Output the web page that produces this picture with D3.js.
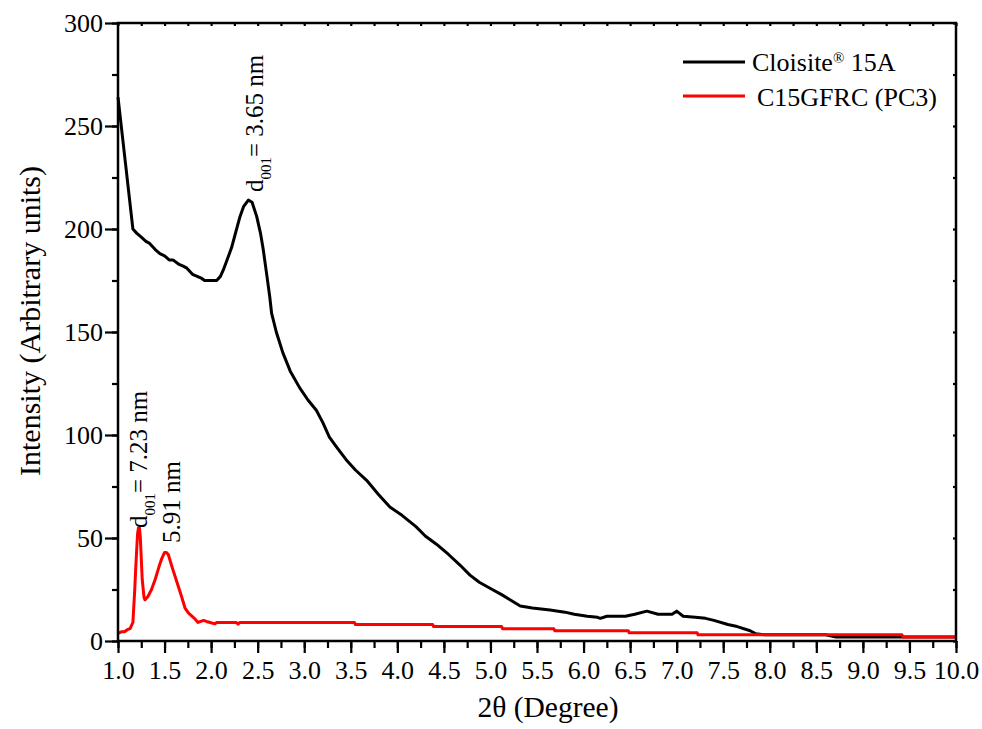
<!DOCTYPE html>
<html>
<head>
<meta charset="utf-8">
<script src="https://cdn.jsdelivr.net/npm/d3@7"></script>
<style>
  body { margin: 0; background: #fff; }
  svg text { font-family: "Liberation Serif", "Times New Roman", serif; fill: #000; }
</style>
</head>
<body>
<svg id="chart" width="982" height="729"></svg>
<script>
// Cloisite 15A (2theta, intensity)
const cloisiteX = [1.00, 1.08, 1.16, 1.20, 1.25, 1.30, 1.34, 1.40, 1.45, 1.50, 1.55, 1.59, 1.65, 1.70, 1.74, 1.80, 1.85, 1.90, 1.93, 2.00, 2.06, 2.10, 2.13, 2.18, 2.22, 2.25, 2.28, 2.31, 2.35, 2.40, 2.44, 2.49, 2.53, 2.56, 2.60, 2.63, 2.65, 2.70, 2.77, 2.85, 2.95, 3.04, 3.13, 3.20, 3.27, 3.35, 3.45, 3.55, 3.67, 3.80, 3.92, 4.05, 4.20, 4.30, 4.42, 4.55, 4.67, 4.78, 4.88, 5.00, 5.12, 5.21, 5.32, 5.45, 5.64, 5.80, 5.90, 6.04, 6.15, 6.18, 6.25, 6.45, 6.55, 6.68, 6.80, 6.95, 7.00, 7.07, 7.20, 7.31, 7.40, 7.55, 7.65, 7.79, 7.85, 7.95, 8.60, 8.70, 9.40, 10.00];
const cloisiteY = [264, 232, 200, 198, 196, 194, 193, 190, 188, 187, 185, 185, 183, 182, 181, 178, 177, 176, 175, 175, 175, 177, 180, 186, 191, 196, 201, 206, 211, 214, 213, 206, 198, 190, 177, 167, 159, 150, 140, 131, 123, 117, 112, 106, 99, 94, 88, 83, 78, 71, 65, 61, 55.5, 51, 47, 42, 37, 32, 28.5, 25.5, 22.5, 20, 17, 16, 15, 14, 13, 12, 11.5, 11, 12, 12, 13, 14.5, 13, 13, 14.5, 12, 11.5, 11, 10, 8, 7, 5, 3.5, 3, 3, 2, 2, 2];

// C15GFRC (PC3)
const pc3X = [1.00, 1.04, 1.07, 1.10, 1.13, 1.16, 1.18, 1.19, 1.21, 1.22, 1.23, 1.24, 1.26, 1.28, 1.29, 1.32, 1.36, 1.40, 1.44, 1.47, 1.50, 1.52, 1.54, 1.58, 1.63, 1.68, 1.72, 1.75, 1.77, 1.82, 1.86, 1.89, 1.92, 1.95, 1.99, 2.04, 2.06, 2.27, 2.29, 2.31, 3.54, 3.55, 4.38, 4.39, 5.12, 5.13, 5.68, 5.69, 6.48, 6.49, 7.22, 7.23, 9.42, 9.43, 10.00];
const pc3Y = [3.7, 4.5, 4.5, 5.5, 6, 9, 25, 35, 52, 55, 55, 50, 30, 21, 20, 21.5, 25, 30, 36, 40, 43, 43, 42, 36, 29, 22, 16, 14, 13, 11, 9, 9.5, 10, 9.5, 9, 8.3, 9, 9, 8.2, 9, 9, 8, 8, 7, 7, 6, 6, 5, 5, 4, 4, 3, 3, 2, 2];

const xTicks = d3.range(1, 10.01, 0.5);
const yTicks = [0, 50, 100, 150, 200, 250, 300];
const seriesNames = ["Cloisite", "C15GFRC (PC3)"];
const seriesColors = ["#000000", "#ff0000"];

const svg = d3.select("#chart");
const plotL = 118, plotR = 956, plotT = 23, plotB = 641;

const x = d3.scaleLinear().domain([1, 10]).range([plotL, plotR]);
const y = d3.scaleLinear().domain([0, 300]).range([plotB, plotT]);

const line = d3.line()
  .x((d) => x(d[0]))
  .y((d) => y(d[1]));

const series = [
  d3.zip(cloisiteX, cloisiteY),
  d3.zip(pc3X, pc3Y),
];

// curves
series.forEach((pts, i) => {
  svg.append("path")
    .datum(pts)
    .attr("d", line)
    .attr("fill", "none")
    .attr("stroke", seriesColors[i])
    .attr("stroke-width", 3)
    .attr("stroke-linejoin", "round");
});

// minor ticks first so the major ones draw over them
const minorX = d3.range(1, 10.01, 0.25);
const minorY = d3.range(0, 300.1, 25);

svg.append("g")
  .attr("transform", `translate(0,${plotB})`)
  .call(d3.axisBottom(x).tickValues(minorX).tickSize(7).tickFormat(""));

svg.append("g")
  .attr("transform", `translate(${plotL},0)`)
  .call(d3.axisLeft(y).tickValues(minorY).tickSize(6).tickFormat(""));

// top and right frame with small inward ticks
svg.append("g")
  .attr("transform", `translate(0,${plotT})`)
  .call(d3.axisBottom(x).tickValues(minorX).tickSize(3).tickFormat(""));

svg.append("g")
  .attr("transform", `translate(${plotR},0)`)
  .call(d3.axisLeft(y).tickValues(minorY).tickSize(3).tickFormat(""));

const xAxis = svg.append("g")
  .attr("transform", `translate(0,${plotB})`)
  .call(d3.axisBottom(x).tickValues(xTicks).tickSize(12).tickFormat(d3.format(".1f")));
xAxis.selectAll("text").attr("y", 20).attr("dy", "0.71em").style("font-size", "26px");

const yAxis = svg.append("g")
  .attr("transform", `translate(${plotL},0)`)
  .call(d3.axisLeft(y).tickValues(yTicks).tickSize(13));
yAxis.selectAll("text").attr("x", -15).attr("dy", "0.34em").style("font-size", "26px");

svg.selectAll(".tick line").attr("stroke", "#000").attr("stroke-width", 2.2);
svg.selectAll(".domain").remove();

// plot frame
svg.append("rect")
  .attr("x", plotL).attr("y", plotT)
  .attr("width", plotR - plotL).attr("height", plotB - plotT)
  .attr("fill", "none").attr("stroke", "#000").attr("stroke-width", 2.5);

// axis titles
svg.append("text")
  .attr("x", 548).attr("y", 717)
  .attr("text-anchor", "middle")
  .style("font-size", "29.5px")
  .text("2θ (Degree)");

svg.append("text")
  .attr("transform", "translate(40,321) rotate(-90)")
  .attr("text-anchor", "middle")
  .style("font-size", "30px")
  .text("Intensity (Arbitrary units)");

// peak labels
function peakLabel(px, py, parts) {
  const t = svg.append("text")
    .attr("transform", `translate(${px},${py}) rotate(-90)`)
    .style("font-size", "25px");
  parts.forEach((p) => {
    const s = t.append("tspan").text(p.text);
    if (p.sub) s.attr("baseline-shift", "sub").style("font-size", "15px");
  });
}
peakLabel(263, 192, [{ text: "d" }, { text: "001", sub: true }, { text: "= 3.65 nm" }]);
peakLabel(147, 528, [{ text: "d" }, { text: "001", sub: true }, { text: "= 7.23 nm" }]);
peakLabel(180, 543, [{ text: "5.91 nm" }]);

// legend
const legend = svg.append("g");
[62, 96].forEach((ly, i) => {
  legend.append("line")
    .attr("x1", 683).attr("x2", 745)
    .attr("y1", ly).attr("y2", ly)
    .attr("stroke", seriesColors[i]).attr("stroke-width", 3);
});
const l1 = legend.append("text").attr("x", 752).attr("y", 71).style("font-size", "26px");
l1.append("tspan").text("Cloisite");
l1.append("tspan").attr("baseline-shift", "super").style("font-size", "15px").text("®");
l1.append("tspan").text(" 15A");
legend.append("text").attr("x", 757).attr("y", 106).style("font-size", "26px").text(seriesNames[1]);
</script>
</body>
</html>
